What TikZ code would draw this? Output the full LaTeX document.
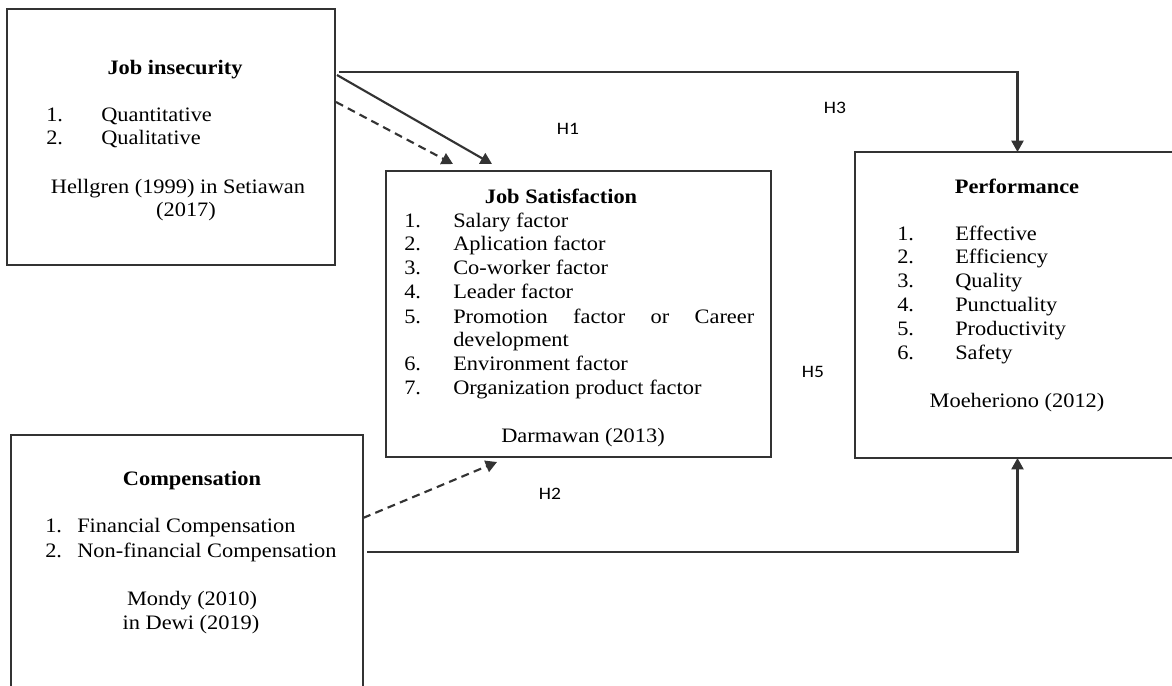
\documentclass[tikz,border=0pt]{standalone}
\usepackage{fontspec}
\setmainfont[FakeStretch=1.09]{Liberation Serif}
\newfontfamily\hfont[FakeStretch=1.12]{Carlito}
\usetikzlibrary{arrows.meta,calc}
\newcommand{\tfont}{\fontsize{15.4}{18}\selectfont}
\tikzset{
  box/.style={draw=black!80, line width=1.6pt, inner sep=0pt, outer sep=0pt, anchor=north west},
  txt/.style={inner sep=0pt, anchor=base west, font=\tfont},
  ctxt/.style={inner sep=0pt, anchor=base, font=\tfont},
  ttl/.style={inner sep=0pt, anchor=base, font=\tfont\bfseries},
  hlab/.style={inner sep=0pt, anchor=base, font=\hfont\fontsize{13.1}{15}\selectfont},
  conn/.style={draw=black!80, line width=1.6pt},
  tip/.style={-{Triangle[length=8.5pt,width=9pt]}},
  dsh/.style={dash pattern=on 6pt off 4pt}
}
\begin{document}
\begin{tikzpicture}[x=0.75pt,y=-0.75pt]
\useasboundingbox (0,0) rectangle (1172,686);
\clip (0,0) rectangle (1172,686);
% boxes
\node[box, minimum width=246pt, minimum height=192pt] (ji) at (7,9) {};
\node[box, minimum width=288.75pt, minimum height=214.5pt] (js) at (386,171) {};
\node[box, minimum width=243.75pt, minimum height=229.5pt] (perf) at (855,152) {};
\node[box, minimum width=264pt, minimum height=210pt] (comp) at (11,435) {};
% Job insecurity
\node[ttl] (jit) at (175,74) {Job insecurity};
\node[txt] (jin1) at (46,121) {1.};
\node[txt] (jia) at (101,121) {Quantitative};
\node[txt] (jin2) at (46,144) {2.};
\node[txt] (jib) at (101,144) {Qualitative};
\node[ctxt] (jir1) at (178,193) {Hellgren (1999) in Setiawan};
\node[ctxt] (jir2) at (186,216) {(2017)};
% Job satisfaction
\node[ttl] (jst) at (561,203) {Job Satisfaction};
\node[txt] (jsn1) at (404,227) {1.};
\node[txt] (jsa) at (453,227) {Salary factor};
\node[txt] (jsn2) at (404,250) {2.};
\node[txt] (jsb) at (453,250) {Aplication factor};
\node[txt] (jsn3) at (404,274) {3.};
\node[txt] (jsc) at (453,274) {Co-worker factor};
\node[txt] (jsn4) at (404,298) {4.};
\node[txt] (jsd) at (453,298) {Leader factor};
\node[txt] (jsn5) at (404,323) {5.};
\node[txt] (jse) at (453,323) {\makebox[225.75pt][s]{Promotion factor or Career}};
\node[txt] (jse2) at (453,346) {development};
\node[txt] (jsn6) at (404,370) {6.};
\node[txt] (jsf) at (453,370) {Environment factor};
\node[txt] (jsn7) at (404,394) {7.};
\node[txt] (jsg) at (453,394) {Organization product factor};
\node[ctxt] (jsr) at (583,442) {Darmawan (2013)};
% Performance
\node[ttl] (pt) at (1017,193) {Performance};
\node[txt] (pn1) at (897,240) {1.};
\node[txt] (pa) at (955,240) {Effective};
\node[txt] (pn2) at (897,263) {2.};
\node[txt] (pb) at (955,263) {Efficiency};
\node[txt] (pn3) at (897,287) {3.};
\node[txt] (pc) at (955,287) {Quality};
\node[txt] (pn4) at (897,311) {4.};
\node[txt] (pd) at (955,311) {Punctuality};
\node[txt] (pn5) at (897,335) {5.};
\node[txt] (pe) at (955,335) {Productivity};
\node[txt] (pn6) at (897,359) {6.};
\node[txt] (pf) at (955,359) {Safety};
\node[ctxt] (pr) at (1017,407) {Moeheriono (2012)};
% Compensation
\node[ttl] (ct) at (192,485) {Compensation};
\node[txt] (cn1) at (45,532) {1.};
\node[txt] (ca) at (77,532) {Financial Compensation};
\node[txt] (cn2) at (45,557) {2.};
\node[txt] (cb) at (77,557) {Non-financial Compensation};
\node[ctxt] (cr1) at (192,605) {Mondy (2010)};
\node[ctxt] (cr2) at (191,629) {in Dewi (2019)};
% hypothesis labels
\node[hlab] (h1) at (568,134) {H1};
\node[hlab] (h3) at (835,113) {H3};
\node[hlab] (h2) at (550,499) {H2};
\node[hlab] (h5) at (813,377) {H5};
% connectors
\draw[conn, tip] ($(ji.north east)+(4,63)$) -| (perf.north);
\draw[conn, tip] ($(ji.north east)+(2,66)$) -- ($(js.north west)+(106,-7)$);
\draw[conn, tip, dsh] ($(ji.north east)+(1,93)$) -- ($(js.north west)+(67,-7)$);
\draw[conn, tip, dsh] ($(comp.north east)+(0,83)$) -- ($(js.south west)+(111,5)$);
\draw[conn, tip] ($(comp.north east)+(4,117)$) -| (perf.south);
\end{tikzpicture}
\end{document}
